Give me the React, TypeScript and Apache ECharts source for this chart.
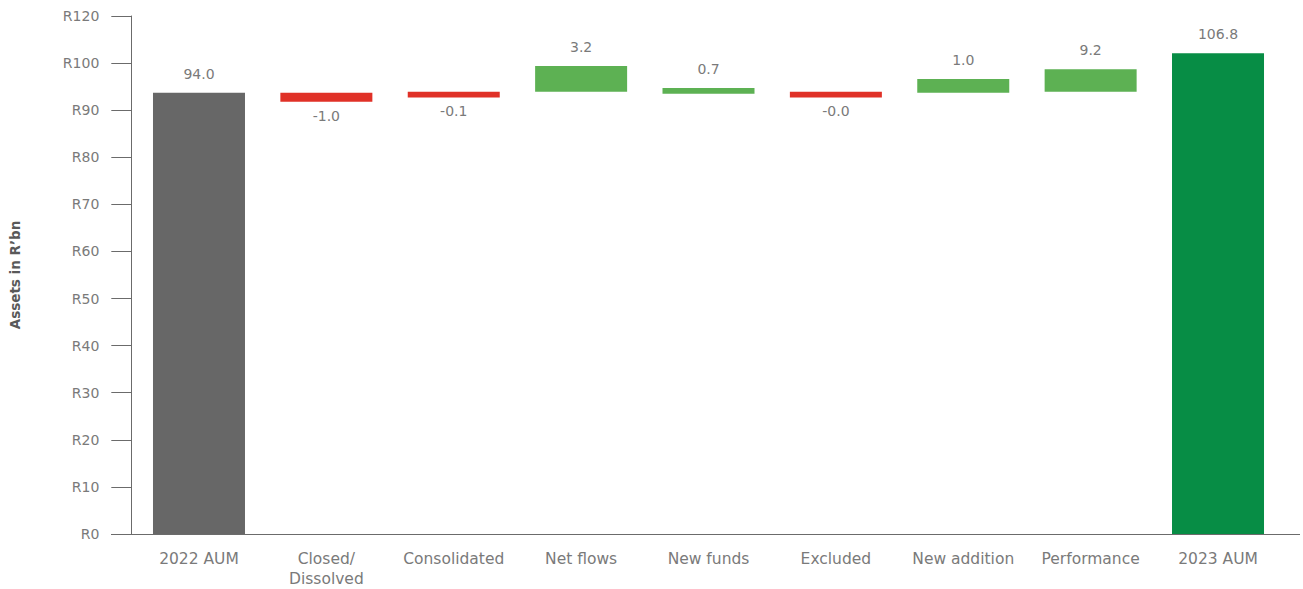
import React, { useEffect, useRef } from "react";
import * as echarts from "echarts";

const categories = [
  "2022 AUM",
  "Closed/\nDissolved",
  "Consolidated",
  "Net flows",
  "New funds",
  "Excluded",
  "New addition",
  "Performance",
  "2023 AUM",
];
// displayed values (labels)
const valueLabels = ["94.0", "-1.0", "-0.1", "3.2", "0.7", "-0.0", "1.0", "9.2", "106.8"];
// bar extents as drawn in the reference
const barLow = [0, 91.8, 92.7, 93.9, 93.5, 92.7, 93.7, 93.9, 0];
const barHigh = [93.7, 93.7, 93.9, 99.4, 94.7, 93.9, 96.6, 98.7, 102.1];
const barColors = ["#676767", "#e03127", "#e03127", "#5db153", "#5db153", "#e03127", "#5db153", "#5db153", "#078d45"];
const yTicks = [0, 10, 20, 30, 40, 50, 60, 70, 80, 90, 100, 110];
const yTickLabels = ["R0", "R10", "R20", "R30", "R40", "R50", "R60", "R70", "R80", "R90", "R100", "R120"];

const FONT = "DejaVu Sans";

export default function App() {
  const ref = useRef<HTMLDivElement>(null);
  useEffect(() => {
    if (!ref.current) return;
    const chart = echarts.init(ref.current, undefined, { renderer: "svg" });
    const negative = valueLabels.map((v) => v.startsWith("-"));
    chart.setOption({
      animation: false,
      grid: { left: 135.3, right: 21.3, top: 16, bottom: 55, containLabel: false, outerBoundsMode: "none" },
      xAxis: {
        type: "category",
        data: categories,
        axisLine: { show: false },
        axisTick: { show: false },
        axisLabel: {
          color: "#7a7a7a",
          fontFamily: FONT,
          fontSize: 15.5,
          margin: 15,
          lineHeight: 20,
          interval: 0,
        },
      },
      yAxis: {
        type: "value",
        min: 0,
        max: 110,
        interval: 10,
        offset: 4,
        name: "Assets in R\u2019bn",
        nameLocation: "middle",
        nameGap: 109,
        nameRotate: 90,
        nameTextStyle: { color: "#595959", fontFamily: FONT, fontSize: 13.5, fontWeight: "bold" },
        splitLine: { show: false },
        axisLine: { show: true, lineStyle: { color: "#6b6b6b", width: 1 } },
        axisTick: { show: true, length: 20, lineStyle: { color: "#6b6b6b", width: 1 } },
        axisLabel: {
          color: "#7a7a7a",
          fontFamily: FONT,
          fontSize: 14,
          margin: 32,
          formatter: (v: number) => {
            const i = yTicks.indexOf(v);
            return i >= 0 ? yTickLabels[i] : "";
          },
        },
      },
      graphic: [
        {
          type: "line",
          shape: { x1: 111, y1: 534.5, x2: 1300, y2: 534.5 },
          style: { stroke: "#6b6b6b", lineWidth: 1 },
          z: 10,
        },
      ],
      series: [
        {
          type: "bar",
          stack: "wf",
          barWidth: 92,
          silent: true,
          itemStyle: { color: "transparent" },
          data: barLow,
        },
        {
          type: "bar",
          stack: "wf",
          barWidth: 92,
          data: barHigh.map((h, i) => ({
            value: +(h - barLow[i]).toFixed(2),
            itemStyle: { color: barColors[i] },
            label: {
              show: true,
              position: negative[i] ? "bottom" : "top",
              distance: negative[i] ? 7 : 12,
              formatter: () => valueLabels[i],
              color: "#7a7a7a",
              fontFamily: FONT,
              fontSize: 14,
            },
          })),
        },
      ],
    });
    return () => chart.dispose();
  }, []);
  return (
    <div
      ref={ref}
      style={{ position: "absolute", left: 0, top: 0, width: 1303, height: 589 }}
    />
  );
}
